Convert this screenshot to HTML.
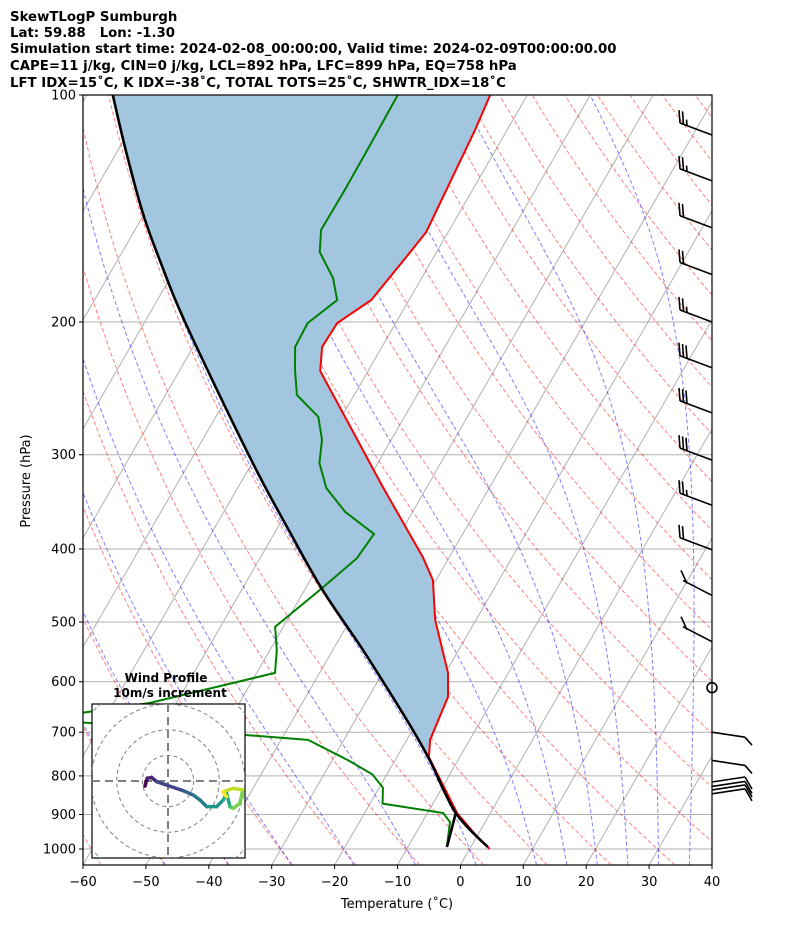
<!DOCTYPE html>
<html><head><meta charset="utf-8"><style>
body{margin:0;background:#fff;}
svg{display:block;font-family:"DejaVu Sans","Liberation Sans",sans-serif;}
</style></head><body>
<svg id="chart" width="794" height="937" viewBox="0 0 794 937" xmlns="http://www.w3.org/2000/svg">
<defs><clipPath id="plotclip"><rect x="83" y="95" width="629" height="770"/></clipPath>
<clipPath id="hodoclip"><rect x="92" y="704" width="153" height="154"/></clipPath></defs>
<g font-weight="bold" font-size="13.3">
<text x="10" y="21">SkewTLogP Sumburgh</text>
<text x="10" y="37">Lat: 59.88&#160;&#160;&#160;Lon: -1.30</text>
<text x="10" y="53">Simulation start time: 2024-02-08_00:00:00, Valid time: 2024-02-09T00:00:00.00</text>
<text x="10" y="70">CAPE=11 j/kg, CIN=0 j/kg, LCL=892 hPa, LFC=899 hPa, EQ=758 hPa</text>
<text x="10" y="87">LFT IDX=15˚C, K IDX=-38˚C, TOTAL TOTS=25˚C, SHWTR_IDX=18˚C</text>
</g>
<g id="grid" clip-path="url(#plotclip)"></g>
<g id="adiabats" clip-path="url(#plotclip)"></g>
<g id="series" clip-path="url(#plotclip)"></g>
<rect x="83" y="95" width="629" height="770" fill="none" stroke="#000" stroke-width="1.2"/>
<g id="axes" font-size="13"></g>
<g id="barbs" stroke="#000" stroke-width="1.6" fill="none"></g>
<g id="hodo"></g>
</svg>
<script>
// ---- data ----
const pressureTicks=[100,200,300,400,500,600,700,800,900,1000];
const tempTicks=[-60,-50,-40,-30,-20,-10,0,10,20,30,40];
const tempP=[100,111.3,152.0,163.0,187.1,200.7,215.9,232.3,269.8,331.1,410.2,439.9,496.7,584.0,628.4,716.6,755.3,896.0,972.9,1000];
const tempT=[-65.9,-65.1,-63.5,-64.3,-66.0,-69.3,-69.5,-67.6,-58.9,-47.0,-34.2,-30.5,-26.5,-19.6,-17.4,-16.3,-14.9,-5.3,0.8,3.2];
const dewP=[100,116.5,133.7,151.0,161.5,174.9,187.1,200.7,215.9,231.6,250.0,267.2,286.7,307.6,332.1,357.2,382.1,411.5,451.0,507.4,544.8,584.0,640.0,660.3,669.2,679.1,706.3,716.6,762.3,796.3,829.4,870.5,896.0,920.9,993.9];
const dewT=[-80.6,-80.4,-80.3,-80.4,-78.6,-74.1,-71.4,-74.0,-73.8,-71.7,-69.1,-63.7,-61.0,-59.3,-55.9,-50.7,-44.1,-44.6,-47.4,-51.3,-48.9,-47.1,-64.2,-74.4,-96.3,-73.6,-45.9,-35.7,-27.5,-22.3,-19.4,-18.0,-7.5,-5.6,-3.8];
const parcelP=[100,118.3,143.4,165.5,200.0,302.2,380.9,453.7,544.8,674.6,762.3,896.0,993.9];
const parcelT=[-125.9,-118.8,-110.3,-103.3,-93.6,-70.9,-57.5,-47.1,-35.2,-21.8,-14.5,-5.5,2.7];
const lclP=[896.0,993.9]; const lclT=[-5.5,-3.8];
const barbP=[113,130,150,173,200,230,264,305,350,401,461,531,611,700,763,815,826,835,845];
const barbSpeed=[25,25,20,20,25,30,30,30,25,20,10,5,0,5,5,5,5,5,5];
const hodoU=[-9,-8.1,-6.4,-4.4,-0.5,6,9.9,12.5,15.1,19,21.6,22.9,24.2,25.5,28.1,29.2,25.5,21.4,22.9];
const hodoV=[-2,1.1,1.4,-0.3,-1.6,-3.8,-5.5,-7.4,-10,-10,-7.4,-4.8,-10,-10.7,-8.7,-3.5,-2.9,-4.2,-6.1];
// ---- axes ----
const X0=83,X1=712,Y0=95,YB=865,PPD=6.29,SK=0.577;
function yP(p){return 95+754*Math.log10(p/100);}
function xT(t,p){return X0+(t+60)*PPD+SK*(YB-yP(p));}
const NS='http://www.w3.org/2000/svg';
function mk(tag,attrs,parent){const e=document.createElementNS(NS,tag);for(const k in attrs)e.setAttribute(k,attrs[k]);parent.appendChild(e);return e;}
const G=document.getElementById('grid'),A=document.getElementById('adiabats'),S=document.getElementById('series'),AX=document.getElementById('axes'),B=document.getElementById('barbs'),H=document.getElementById('hodo');
function pathFrom(P,T){return P.map((p,i)=>(i?'L':'M')+xT(T[i],p).toFixed(1)+','+yP(p).toFixed(1)).join('');}
function smoothFrom(P,T){const q=P.map((p,i)=>[xT(T[i],p),yP(p)]);let d='M'+q[0][0].toFixed(1)+','+q[0][1].toFixed(1);
for(let i=0;i<q.length-1;i++){const p0=q[Math.max(0,i-1)],p1=q[i],p2=q[i+1],p3=q[Math.min(q.length-1,i+2)];
const c1=[p1[0]+(p2[0]-p0[0])/6,p1[1]+(p2[1]-p0[1])/6],c2=[p2[0]-(p3[0]-p1[0])/6,p2[1]-(p3[1]-p1[1])/6];
d+='C'+c1[0].toFixed(1)+','+c1[1].toFixed(1)+' '+c2[0].toFixed(1)+','+c2[1].toFixed(1)+' '+p2[0].toFixed(1)+','+p2[1].toFixed(1);}
return d;}
// grid
pressureTicks.forEach(p=>{const l=mk('line',{x1:X0,x2:X1,y1:yP(p),y2:yP(p),stroke:'#b0b0b0','stroke-width':1},G);

});
for(let t=-140;t<=40;t+=10){const l=mk('line',{x1:xT(t,1050),y1:yP(1050),x2:xT(t,100),y2:yP(100),stroke:'#b0b0b0','stroke-width':1},G);

}
// dry adiabats
const pl=[];for(let p=1050;p>=100;p-=10)pl.push(p);
for(let th=173;th<=483;th+=10){const d=pl.map((p,i)=>(i?'L':'M')+xT(th*Math.pow(p/1000,0.2857)-273.15,p).toFixed(1)+','+yP(p).toFixed(1)).join('');
const e=mk('path',{d:d,fill:'none',stroke:'#ff0000','stroke-opacity':0.5,'stroke-width':1,'stroke-dasharray':'4,2.5'},A);

}
// moist adiabats
function dTdp(T,p){const es=6.112*Math.exp(17.67*(T-273.15)/(T-29.65));const rs=0.622*es/(p-es);
return (287.04*T+2.501e6*rs)/(p*(1005.7+2.501e6*2.501e6*rs*0.622/(287.04*T*T)));}
[-50,-40,-30,-20,-10,0,10,15,20,25,30,35].forEach(t0=>{let pts=[];let T=t0+273.15,p;
let Td=T;for(let q=1000;q<1050;q+=5){Td+=dTdp(Td,q)*5;} pts.push([1050,Td]);
for(p=1000;p>=100;p-=5){pts.push([p,T]);T-=dTdp(T,p)*5;}
const d=pts.map((q,i)=>(i?'L':'M')+xT(q[1]-273.15,q[0]).toFixed(1)+','+yP(q[0]).toFixed(1)).join('');
const e=mk('path',{d:d,fill:'none',stroke:'#0000ff','stroke-opacity':0.5,'stroke-width':1,'stroke-dasharray':'4,2.5'},A);

});
// cape fill
{const up=[];parcelP.forEach((p,i)=>{if(p<=770)up.push([xT(parcelT[i],p),yP(p)]);});
const rp=[];tempP.forEach((p,i)=>{if(p<=770)rp.push([xT(tempT[i],p),yP(p)]);});
up.push([xT(-12.5,790),yP(790)]);
const all=up.concat(rp.reverse());
const f=mk('polygon',{points:all.map(q=>q[0].toFixed(1)+','+q[1].toFixed(1)).join(' '),fill:'#a2c6df'},S);

}
let e;
e=mk('path',{d:pathFrom(tempP,tempT),fill:'none',stroke:'#ff0000','stroke-width':2},S);


e=mk('path',{d:pathFrom(dewP,dewT),fill:'none',stroke:'#008000','stroke-width':2},S);


e=mk('path',{d:smoothFrom(parcelP,parcelT),fill:'none',stroke:'#000','stroke-width':2.6},S);


e=mk('path',{d:pathFrom(lclP,lclT),fill:'none',stroke:'#000','stroke-width':2.6},S);


// axis ticks/labels
pressureTicks.forEach(p=>{mk('line',{x1:79,x2:83,y1:yP(p),y2:yP(p),stroke:'#000'},AX);
const t=mk('text',{x:76,y:yP(p)+4.5,'text-anchor':'end'},AX);t.textContent=p;

});
tempTicks.forEach(v=>{const x=X0+(v+60)*PPD;mk('line',{x1:x,x2:x,y1:865,y2:869,stroke:'#000'},AX);
const t=mk('text',{x:x,y:886,'text-anchor':'middle'},AX);t.textContent=v<0?'\u2212'+(-v):v;

});
e=mk('text',{x:397,y:908,'text-anchor':'middle'},AX);e.textContent='Temperature (\u02DAC)';


e=mk('text',{x:30,y:481,'text-anchor':'middle',transform:'rotate(-90 30 481)'},AX);e.textContent='Pressure (hPa)';


// wind barbs
barbP.forEach((p,i)=>{const y=yP(p),s=barbSpeed[i],g=mk('g',{},B);


if(s===0){mk('circle',{cx:712,cy:y,r:5},g);return;}
if(p>650){const tx=745,ty=y+(p>780?-5:5);mk('line',{x1:712,y1:y,x2:tx,y2:ty},g);mk('line',{x1:tx,y1:ty,x2:tx+7,y2:ty+(p>780?12:8)},g);return;}
if(s<=10){const tx=p>580?687:683,ty=y-(p>580?22:15);mk('line',{x1:712,y1:y,x2:tx,y2:ty},g);mk('line',{x1:tx+4,y1:ty+3,x2:tx-2,y2:ty+(p>580?6:-10)},g);return;}
const tx=680,ty=y-12;mk('line',{x1:712,y1:y,x2:tx,y2:ty},g);
const n=Math.floor(s/10),h=(s%10)>=5;
for(let k=0;k<n;k++){const bx=tx+k*3.5;mk('line',{x1:bx,y1:ty+k*1.3,x2:bx-1,y2:ty+k*1.3-13},g);}
if(h){const bx=tx+n*3.5;mk('line',{x1:bx,y1:ty+n*1.3,x2:bx-0.5,y2:ty+n*1.3-6},g);}});
// hodograph
const HC=[168,781],HR=2.56;
e=mk('text',{x:166,y:682,'text-anchor':'middle','font-weight':'bold','font-size':12},H);e.textContent='Wind Profile';


e=mk('text',{x:170,y:697,'text-anchor':'middle','font-weight':'bold','font-size':12},H);e.textContent='10m/s increment';


e=mk('rect',{x:92,y:704,width:153,height:154,fill:'#fff',stroke:'#000','stroke-width':1.2},H);


const HG=mk('g',{'clip-path':'url(#hodoclip)'},H);
[10,20,30,40].forEach(r=>{mk('circle',{cx:HC[0],cy:HC[1],r:r*HR,fill:'none',stroke:'#808080','stroke-dasharray':'4,3'},HG);});
mk('line',{x1:92,x2:245,y1:HC[1],y2:HC[1],stroke:'#808080','stroke-width':2,'stroke-dasharray':'8,5'},HG);
mk('line',{x1:HC[0],x2:HC[0],y1:704,y2:858,stroke:'#808080','stroke-width':2,'stroke-dasharray':'8,5'},HG);
const vir=['#440154','#482475','#414487','#355f8d','#2a788e','#21918c','#22a884','#44bf70','#7ad151','#bddf26','#fde725'];
for(let i=0;i<hodoU.length-1;i++){const c=vir[Math.round(i/(hodoU.length-2)*10)];
const l=mk('line',{x1:HC[0]+hodoU[i]*HR,y1:HC[1]-hodoV[i]*HR,x2:HC[0]+hodoU[i+1]*HR,y2:HC[1]-hodoV[i+1]*HR,stroke:c,'stroke-width':3.5,'stroke-linecap':'round'},HG);

}
</script>
</body></html>
